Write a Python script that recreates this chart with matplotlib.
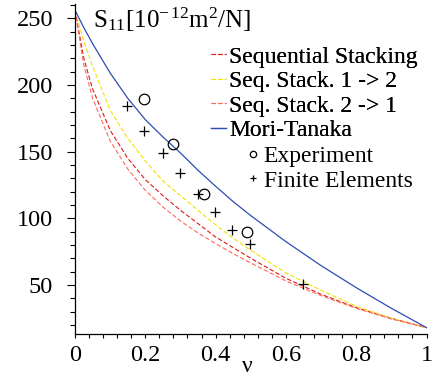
import matplotlib
matplotlib.use("Agg")
import matplotlib.pyplot as plt
from matplotlib.ticker import MultipleLocator

plt.rcParams['font.family'] = ['Liberation Serif', 'DejaVu Serif']
plt.rcParams['mathtext.fontset'] = 'custom'
plt.rcParams['mathtext.rm'] = 'Liberation Serif'
plt.rcParams['mathtext.it'] = 'Liberation Serif:italic'

# volume fraction grid for the model curves
nu = [0, 0.025, 0.05, 0.1, 0.15, 0.2, 0.25, 0.3, 0.35, 0.4, 0.45, 0.5, 0.6, 0.7, 0.8, 0.9, 1.0]

seq_stack = [256, 220, 197, 166, 145, 129, 117, 106, 96, 86, 78, 70, 55, 43, 33, 25, 18]
seq_12 = [256, 233, 214, 181, 160, 143, 128, 117, 106, 95, 85, 76, 59, 46, 34, 25, 18]
seq_21 = [256, 215, 190, 158, 137, 121, 108.5, 98, 89, 81, 73.5, 66.5, 53, 42, 32.5, 24.5, 18]
mori_tanaka = [256, 243, 231, 209, 190, 174, 161, 149, 136, 124, 112.5, 102, 82.5, 64.5, 48, 32.5, 18]

# measured and simulated points
exp_nu = [0.197, 0.278, 0.368, 0.489]
exp_s = [189.5, 155.7, 118, 89.5]
fe_nu = [0.147, 0.197, 0.249, 0.299, 0.349, 0.399, 0.448, 0.499, 0.650]
fe_s = [184.2, 165.7, 149.2, 133.7, 118, 105, 91.2, 80.5, 50.5]

W, H = 434, 375
fig = plt.figure(figsize=(W / 100, H / 100), dpi=100)
ax = fig.add_axes([75 / W, 1 - 334.3 / H, 351.5 / W, 330.7 / H])

dash = (0, (4, 2))
l1, = ax.plot(nu, seq_stack, color='#e01818', lw=0.8, ls=dash)
l2, = ax.plot(nu, seq_12, color='#f2e200', lw=0.8, ls=dash)
l3, = ax.plot(nu, seq_21, color='#ff6a5a', lw=0.8, ls=dash)
l4, = ax.plot(nu, mori_tanaka, color='#2f4db2', lw=0.9)
p1, = ax.plot(exp_nu, exp_s, ls='none', marker='o', ms=7.6, mfc='none', mec='black', mew=0.9)
p2, = ax.plot(fe_nu, fe_s, ls='none', marker='+', ms=6.8, color='black', mew=0.9)

ax.set_xlim(0, 1)
ax.set_ylim(13, 261)
for side in ('top', 'right'):
    ax.spines[side].set_visible(False)
ax.spines['left'].set_linewidth(0.9)
ax.spines['bottom'].set_linewidth(0.9)

ax.xaxis.set_major_locator(MultipleLocator(0.2))
ax.xaxis.set_minor_locator(MultipleLocator(0.04))
ax.yaxis.set_major_locator(MultipleLocator(50))
ax.yaxis.set_minor_locator(MultipleLocator(10))
ax.set_xticks([0, 0.2, 0.4, 0.6, 0.8, 1])
ax.set_xticklabels(['0', '0.2', '0.4', '0.6', '0.8', '1'])
ax.set_yticks([50, 100, 150, 200, 250])
ax.tick_params(axis='y', which='major', length=5.8, width=0.8, labelsize=17.5, pad=10)
ax.tick_params(axis='y', which='minor', length=3.6, width=0.8)
ax.tick_params(axis='x', which='both', length=3, width=0.8, labelsize=17.5, pad=5)

fig.text(247 / W, 1 - 366 / H, r'$\mathregular{\nu}$', ha='center', va='center', fontsize=17)
ax.text((93 - 75) / 351.5, 1 - (28 - 3.6) / 330.7, r'$\mathregular{S_{11}[10^{-\,12}m^2/N]}$',
        transform=ax.transAxes, ha='left', va='baseline', fontsize=18)

leg_kw = dict(loc='upper left', frameon=False, fontsize=17, handlelength=0.64,
              handletextpad=0.13, labelspacing=0.13, borderpad=0, borderaxespad=0)
leg1 = fig.legend([l1, l2, l3, l4],
                  ['Sequential Stacking', 'Seq. Stack. 1 -> 2', 'Seq. Stack. 2 -> 1', 'Mori-Tanaka'],
                  bbox_to_anchor=(211 / W, 1 - 46 / H), **leg_kw)
fig.add_artist(leg1)
fig.legend([p1, p2], ['Experiment', 'Finite Elements'],
           bbox_to_anchor=(245.5 / W, 1 - 145.5 / H), markerscale=0.6, **leg_kw)

fig.savefig('out.png', dpi=100)
